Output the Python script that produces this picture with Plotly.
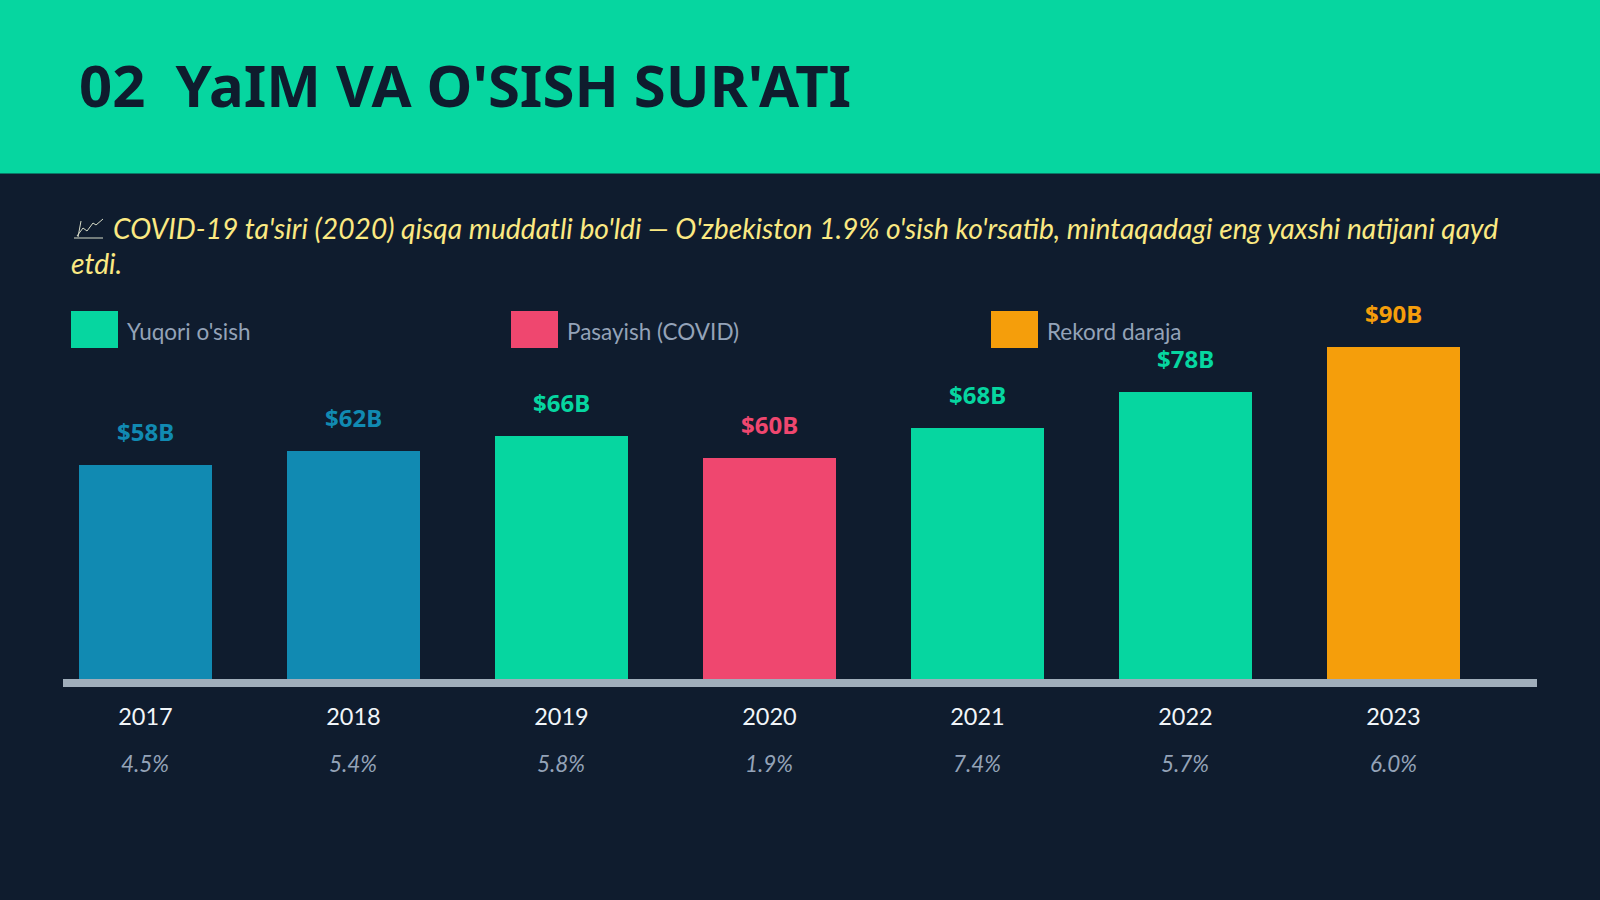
import plotly.graph_objects as go

# Chart data
years = ["2017", "2018", "2019", "2020", "2021", "2022", "2023"]
gdp_billion = [58, 62, 66, 60, 68, 78, 90]
growth_pct = ["4.5%", "5.4%", "5.8%", "1.9%", "7.4%", "5.7%", "6.0%"]
value_labels = ["$58B", "$62B", "$66B", "$60B", "$68B", "$78B", "$90B"]

# Palette
BG = "#0F1C2E"
GREEN = "#06D6A0"
RED = "#EF476F"
BLUE = "#118AB2"
ORANGE = "#F59E0B"
YELLOW = "#FBE982"
MUTED = "#94A3B8"
AXIS = "#A0AEBB"
bar_colors = [BLUE, BLUE, GREEN, RED, GREEN, GREEN, ORANGE]

title_text = "02  YaIM VA O'SISH SUR'ATI"
note_line_1 = ("COVID-19 ta'siri (2020) qisqa muddatli bo'ldi — O'zbekiston 1.9% o'sish "
               "ko'rsatib, mintaqadagi eng yaxshi natijani qayd")
note_line_2 = "etdi."
legend_items = [("Yuqori o'sish", GREEN, 71), ("Pasayish (COVID)", RED, 511), ("Rekord daraja", ORANGE, 991)]

W, H = 1600, 900


def px(x):
    return x / W


def py(y):
    return 1 - y / H


fig = go.Figure(
    go.Bar(
        x=list(range(len(years))),
        y=gdp_billion,
        width=0.64,
        marker=dict(color=bar_colors, line=dict(width=0)),
        hoverinfo="skip",
    )
)

annotations = []


def label(x, y, text, size, color, family="Lato", xanchor="left", **font_extra):
    annotations.append(dict(
        x=px(x), y=py(y), xref="paper", yref="paper", text=text, showarrow=False,
        xanchor=xanchor, yanchor="middle", align="left",
        font=dict(family=family, size=size, color=color, **font_extra),
    ))


label(77, 84, title_text, 58, BG, family="Noto Sans", weight=700)
label(111, 227.5, note_line_1, 28.2, YELLOW, style="italic")
label(69, 262.5, note_line_2, 28.2, YELLOW, style="italic")

shapes = [dict(type="rect", xref="paper", yref="paper", x0=0, x1=1, y0=py(173.5), y1=1,
               fillcolor=GREEN, line=dict(width=0), layer="below")]

# Small trend-line pictogram ahead of the note
for pts in ([(74, 238), (103, 238)],
            [(78, 237), (81, 221)],
            [(77, 236), (83, 228), (87, 231), (93, 223), (96, 225), (103, 219)]):
    path = "M " + " L ".join(f"{px(a)} {py(b)}" for a, b in pts)
    shapes.append(dict(type="path", xref="paper", yref="paper", path=path,
                       line=dict(color="#D8DCC8", width=1)))

for text, color, left in legend_items:
    shapes.append(dict(type="rect", xref="paper", yref="paper",
                       x0=px(left), x1=px(left + 47), y0=py(348), y1=py(311),
                       fillcolor=color, line=dict(width=0)))
    label(left + 54, 332, text, 22.5, MUTED)

# Value labels sit above each bar, growth rates below the year labels
for i, (v, t, c, g) in enumerate(zip(gdp_billion, value_labels, bar_colors, growth_pct)):
    annotations.append(dict(
        x=i, y=v, xref="x", yref="y", text=t, showarrow=False, yanchor="middle",
        yshift=33.5, font=dict(family="Noto Sans", size=24, color=c, weight=700),
    ))
    annotations.append(dict(
        x=i, y=py(763.5), xref="x", yref="paper", text=g, showarrow=False, yanchor="middle",
        font=dict(family="Lato", size=22.5, color=MUTED, style="italic"),
    ))

fig.update_layout(
    width=W, height=H,
    margin=dict(l=0, r=0, t=0, b=0),
    paper_bgcolor=BG, plot_bgcolor=BG,
    showlegend=False,
    shapes=shapes,
    annotations=annotations,
    bargap=0,
    xaxis=dict(
        domain=[px(63), px(1537)],
        range=[-0.3966, 6.69],
        tickmode="array",
        tickvals=list(range(len(years))),
        ticktext=years,
        tickfont=dict(family="Lato", size=23.5, color="#F1F5F9"),
        ticks="",
        ticklabelstandoff=10,
        showgrid=False,
        zeroline=False,
        showline=True,
        linecolor=AXIS,
        linewidth=8,
    ),
    yaxis=dict(
        domain=[py(679), py(200)],
        range=[0, 130],
        visible=False,
    ),
)

fig.write_html("out.html")
